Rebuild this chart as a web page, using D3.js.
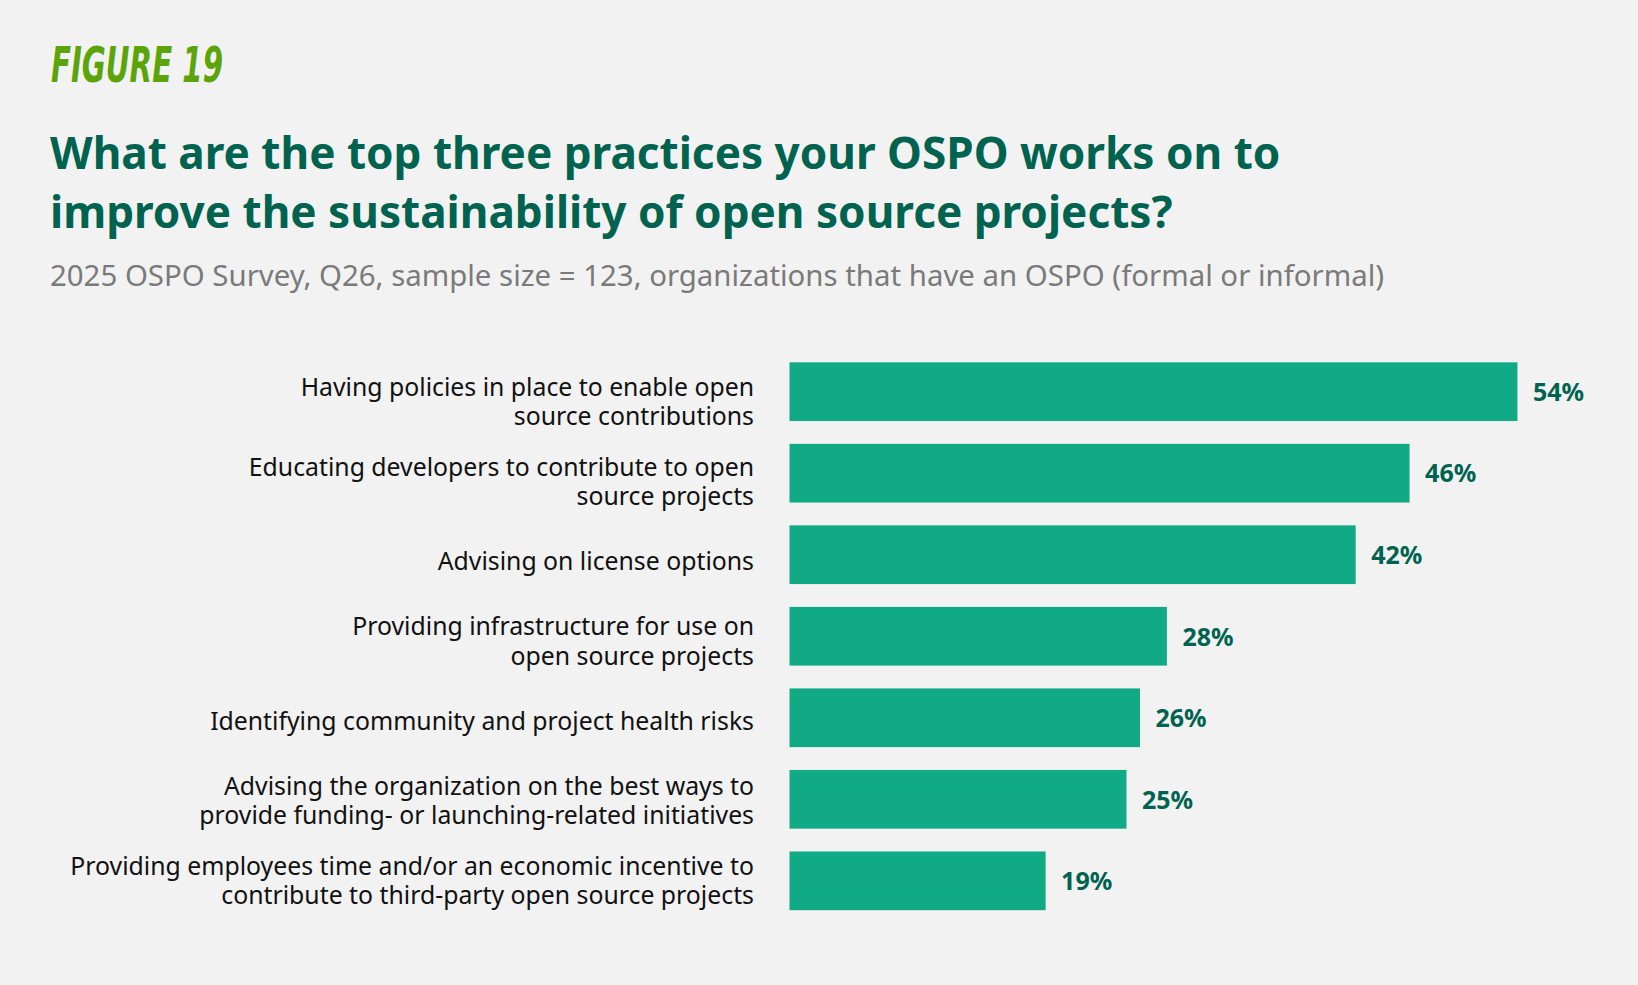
<!DOCTYPE html>
<html>
<head>
<meta charset="utf-8">
<script src="https://cdn.jsdelivr.net/npm/d3@7"></script>
<style>
  html, body { margin: 0; padding: 0; background: #f2f2f2; }
  svg { display: block; }
</style>
</head>
<body>
<div id="chart"></div>
<script>
// ---- data ----
const categories = [
  "Having policies in place to enable open\nsource contributions",
  "Educating developers to contribute to open\nsource projects",
  "Advising on license options",
  "Providing infrastructure for use on\nopen source projects",
  "Identifying community and project health risks",
  "Advising the organization on the best ways to\nprovide funding- or launching-related initiatives",
  "Providing employees time and/or an economic incentive to\ncontribute to third-party open source projects"
];
const values = [54, 46, 42, 28, 26, 25, 19];
const figureLabel = "FIGURE 19";
const titleLines = [
  "What are the top three practices your OSPO works on to",
  "improve the sustainability of open source projects?"
];
const subtitle = "2025 OSPO Survey, Q26, sample size = 123, organizations that have an OSPO (formal or informal)";

// ---- layout ----
const W = 1638, H = 985;
const svg = d3.select("#chart").append("svg")
  .attr("width", W).attr("height", H);

svg.append("rect").attr("width", W).attr("height", H).attr("fill", "#f2f2f2");

const font = "'Noto Sans', 'Open Sans', sans-serif";

svg.append("text")
  .attr("x", 51).attr("y", 81.7)
  .attr("font-family", "'Liberation Sans Narrow', 'DejaVu Sans Condensed', 'Liberation Sans', sans-serif")
  .attr("font-weight", 700).attr("font-style", "italic")
  .attr("font-size", 49)
  .attr("textLength", 172).attr("lengthAdjust", "spacingAndGlyphs")
  .attr("fill", "#5ba50a")
  .text(figureLabel);

svg.append("g").selectAll("text").data(titleLines).join("text")
  .attr("x", 50).attr("y", (d, i) => 169 + i * 58.7)
  .attr("font-family", font).attr("font-weight", 700)
  .attr("font-size", 44.1).attr("fill", "#00634f")
  .text(d => d);

svg.append("text")
  .attr("x", 50).attr("y", 286)
  .attr("font-family", font).attr("font-size", 29.4)
  .attr("fill", "#7a7a7a")
  .text(subtitle);

// ---- scales ----
const x = d3.scaleLinear().domain([0, 100]).range([789.5, 789.5 + 1348]);
const y = d3.scaleBand().domain(categories).range([339.5, 933]).padding(0.28);
const yLabel = d3.scalePoint().domain(categories).range([410.6, 889.6]);
const lineH = 29.3;

// bars
svg.append("g").selectAll("rect").data(values).join("rect")
  .attr("x", x(0))
  .attr("y", (d, i) => y(categories[i]))
  .attr("width", d => x(d) - x(0))
  .attr("height", y.bandwidth())
  .attr("fill", "#10aa84");

// value labels
svg.append("g").selectAll("text").data(values).join("text")
  .attr("x", d => x(d) + 15.5)
  .attr("y", (d, i) => y(categories[i]) + y.bandwidth() / 2)
  .attr("dy", "0.37em")
  .attr("font-family", font).attr("font-weight", 700)
  .attr("font-size", 25).attr("fill", "#00634f")
  .text(d => d + "%");

// category labels
const lab = svg.append("g").selectAll("text").data(categories).join("text")
  .attr("text-anchor", "end")
  .attr("font-family", font).attr("font-size", 24.8)
  .attr("fill", "#111");
lab.each(function(d) {
  const lines = d.split("\n");
  const c = yLabel(d);
  d3.select(this).selectAll("tspan").data(lines).join("tspan")
    .attr("x", 754)
    .attr("y", (l, i) => c + (i - (lines.length - 1) / 2) * lineH)
    .text(l => l);
});
</script>
</body>
</html>
